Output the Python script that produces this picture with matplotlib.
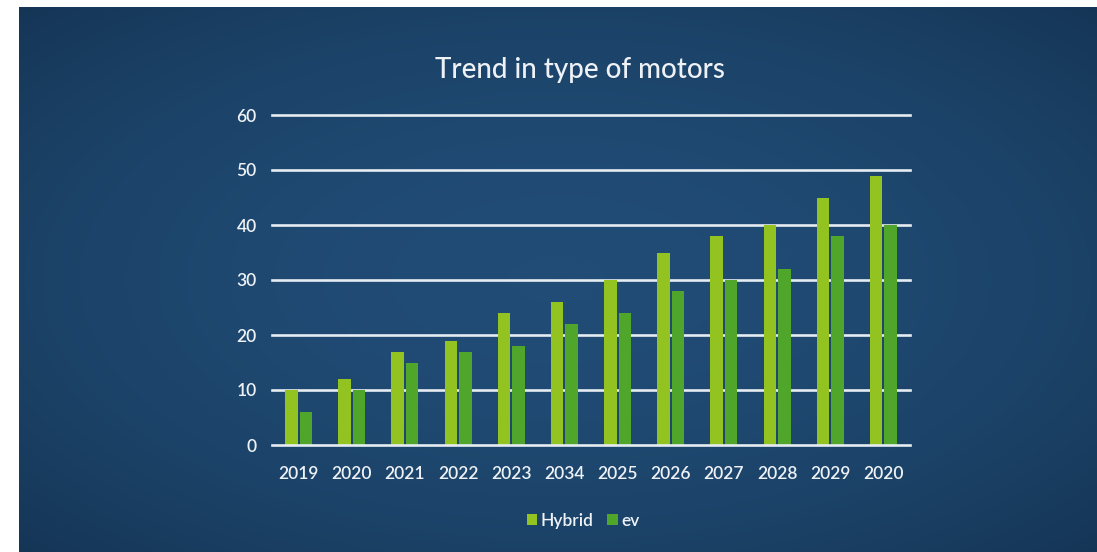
import numpy as np
import matplotlib
matplotlib.use("Agg")
import matplotlib.pyplot as plt
from matplotlib.colors import LinearSegmentedColormap

# Chart data
years = ["2019", "2020", "2021", "2022", "2023", "2034",
         "2025", "2026", "2027", "2028", "2029", "2020"]
hybrid = [10, 12, 17, 19, 24, 26, 30, 35, 38, 40, 45, 49]
ev = [6, 10, 15, 17, 18, 22, 24, 28, 30, 32, 38, 40]
y_ticks = [0, 10, 20, 30, 40, 50, 60]

HYBRID_COLOR = "#93c321"
EV_COLOR = "#4fa62b"
TEXT_COLOR = "#eef2f6"
GRID_COLOR = "#e6edf2"
FONT = ["Lato", "DejaVu Sans"]

W, H, DPI = 1097, 552, 100
fig = plt.figure(figsize=(W / DPI, H / DPI), dpi=DPI, facecolor="white")

# Slide background: dark blue panel with a soft vignette
bg = fig.add_axes([19 / W, 0, 1 - 19 / W, 1 - 7 / H])
bg.set_axis_off()
ny, nx = 300, 600
yy, xx = np.mgrid[-1:1:ny * 1j, -1:1:nx * 1j]
r = np.sqrt((xx * 0.9) ** 2 + (yy * 0.9) ** 2)
shade = np.clip(1 - 0.28 * r ** 2, 0, 1)
cmap = LinearSegmentedColormap.from_list("slide", ["#143353", "#1a4064", "#214c76"])
bg.imshow(shade, cmap=cmap, aspect="auto", vmin=0.5, vmax=1.0,
          extent=[0, 1, 0, 1], interpolation="bilinear")
bg.set_xlim(0, 1)
bg.set_ylim(0, 1)

# Plot area
left, right = 272 / W, 910 / W
bottom, top = (H - 445) / H, (H - 115) / H
ax = fig.add_axes([left, bottom, right - left, top - bottom])
ax.patch.set_alpha(0)

x = np.arange(len(years))
width = 0.235
offset = 0.137
ax.bar(x - offset, hybrid, width, color=HYBRID_COLOR, label="Hybrid", zorder=3)
ax.bar(x + offset, ev, width, color=EV_COLOR, label="ev", zorder=3)

ax.set_xlim(-0.5, len(years) - 0.5)
ax.set_ylim(0, 60)
ax.set_yticks(y_ticks)
ax.set_xticks(x)
ax.set_xticklabels(years)
for s in ax.spines.values():
    s.set_visible(False)
ax.tick_params(axis="both", length=0, colors=TEXT_COLOR, labelsize=12.5)
ax.tick_params(axis="y", pad=11)
ax.tick_params(axis="x", pad=15)
for lab in ax.get_xticklabels() + ax.get_yticklabels():
    lab.set_family(FONT)
    lab.set_weight("semibold")
for yv in y_ticks:
    ax.axhline(yv, color=GRID_COLOR, lw=1.9, zorder=2 if yv else 4, clip_on=False)

fig.text(580 / W, (H - 70) / H, "Trend in type of motors",
         ha="center", va="center", color=TEXT_COLOR, fontsize=20, family=FONT,
         weight="medium")

leg = ax.legend(loc="center", bbox_to_anchor=((583 - 272) / (910 - 272),
                                              -(521 - 445) / (445 - 115)),
                ncol=2, frameon=False, handlelength=0.6, handleheight=0.6,
                handletextpad=0.2, columnspacing=0.8,
                prop={"family": FONT, "size": 12.5, "weight": "semibold"})
for t in leg.get_texts():
    t.set_color(TEXT_COLOR)

fig.savefig("out.png", dpi=DPI, facecolor="white")
